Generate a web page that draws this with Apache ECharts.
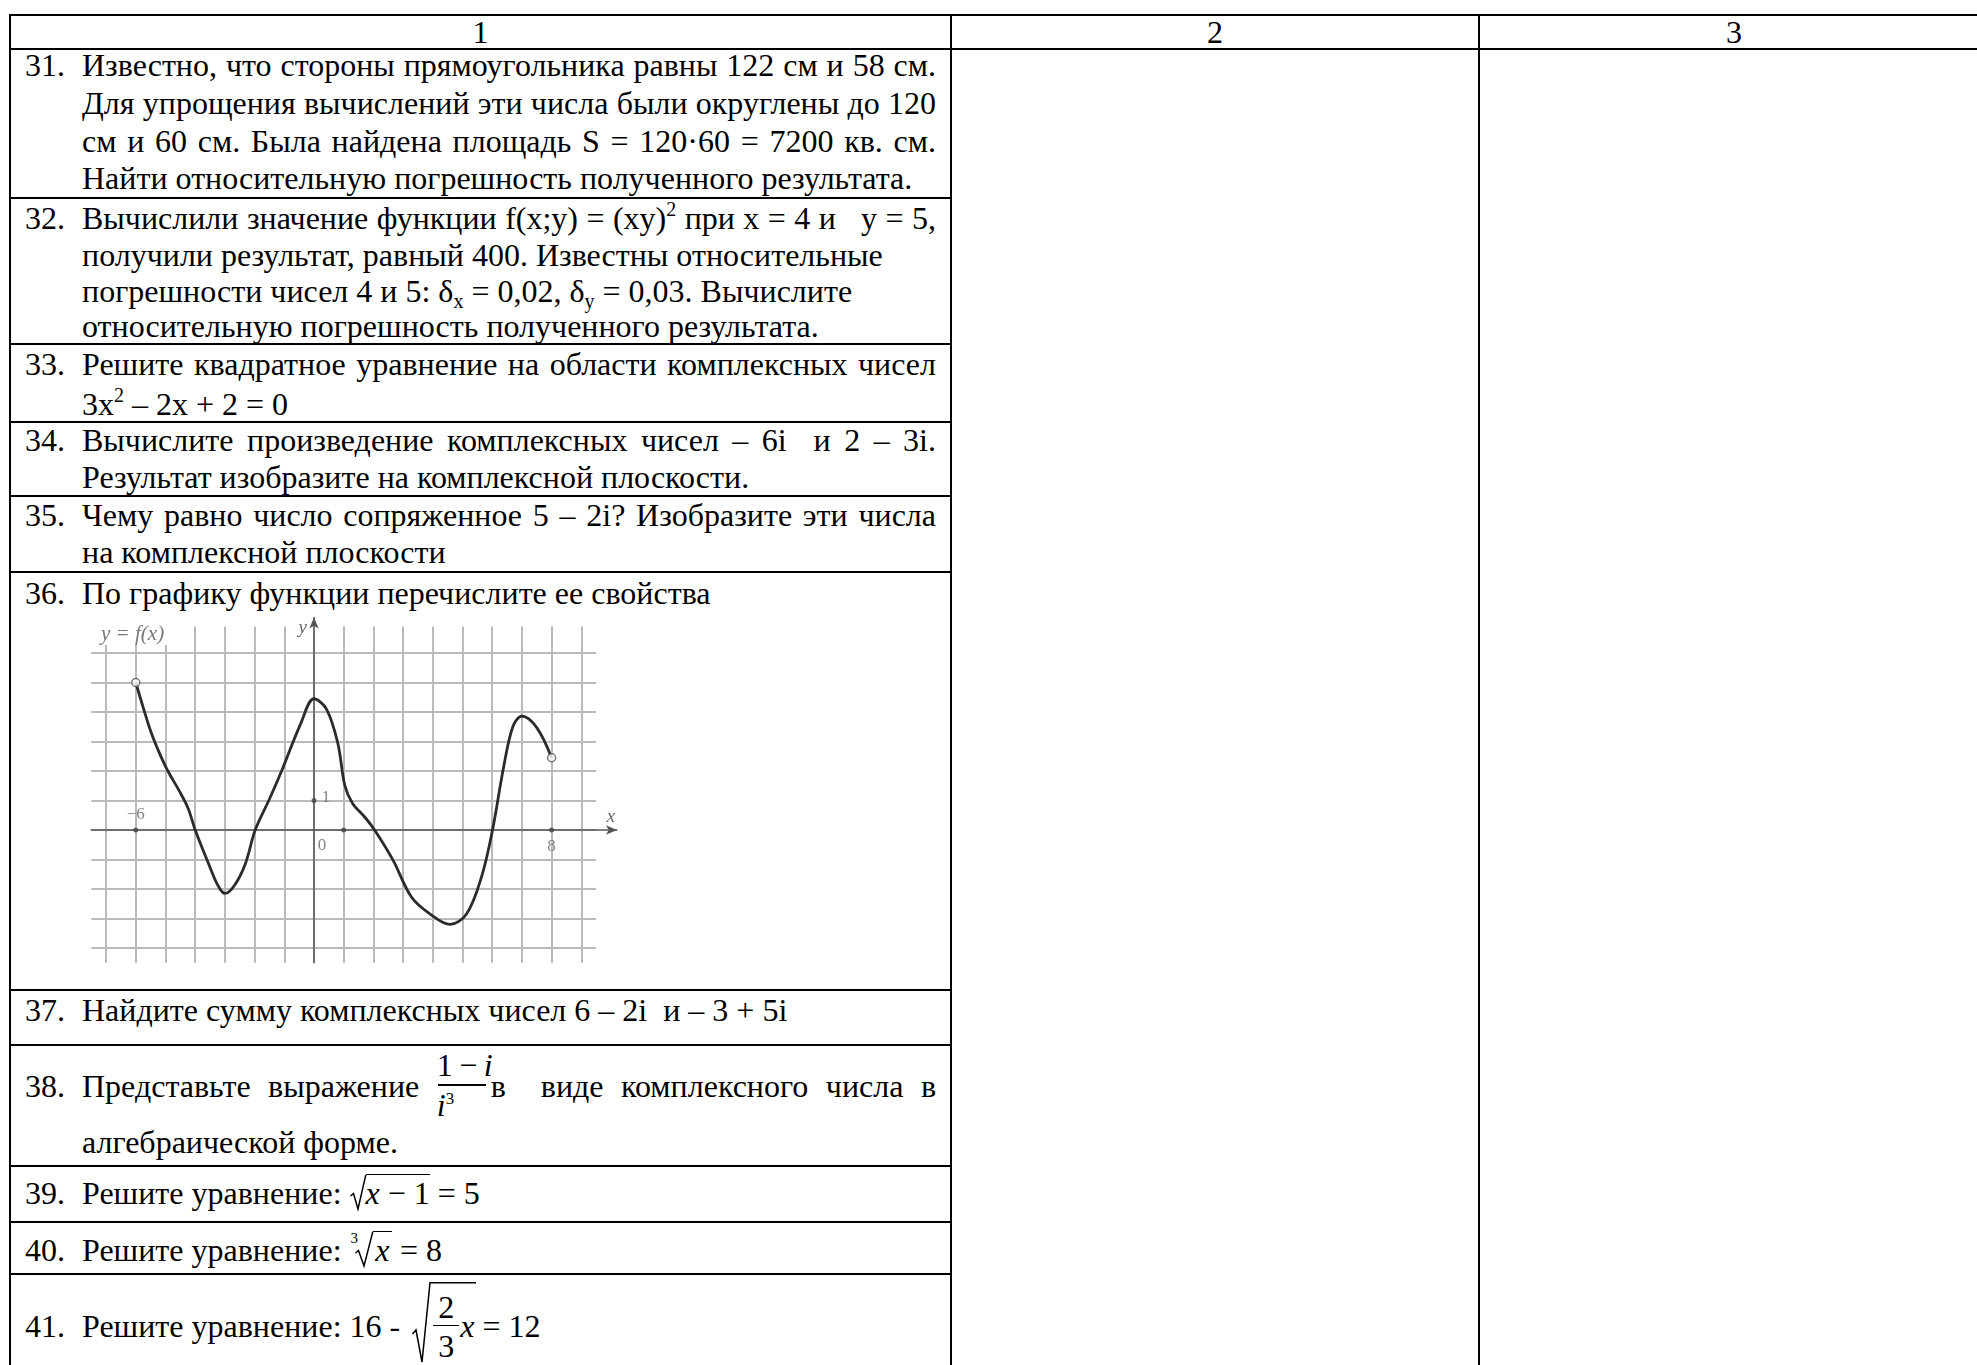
<!DOCTYPE html>
<html>
<head>
<meta charset="utf-8">
<script src="https://cdn.jsdelivr.net/npm/echarts@6/dist/echarts.min.js"></script>
<style>
  body { margin: 0; background: #fff; width: 1977px; height: 1365px; overflow: hidden; position: relative;
         font-family: 'Liberation Serif', 'Times New Roman', serif; color: #000; }
  .hl { position: absolute; height: 2px; background: #000; }
  .vl { position: absolute; width: 2px; background: #000; }
  .t { position: absolute; font-size: 32px; line-height: 37px; height: 37px; white-space: nowrap; }
  .c { text-align: center; }
  .j { width: 854px; white-space: normal; text-align: justify; text-align-last: justify; }
  .sup { font-size: 20px; vertical-align: 13px; line-height: 0; }
  .sub { font-size: 20px; vertical-align: -6px; line-height: 0; }
  .fr { display: inline-block; position: relative; height: 0; vertical-align: baseline; }
  .fn, .fd { position: absolute; left: 0; right: 0; text-align: center; line-height: 32px; white-space: nowrap; }
  .fb { position: absolute; left: 1px; right: 1px; height: 1.5px; background: #000; }
  .rad { display: inline-block; position: relative; height: 0; vertical-align: baseline; }
  .rad svg { position: absolute; left: 0; overflow: visible; }
  .ov { border-top: 1.5px solid #000; }
  .idx { position: absolute; font-size: 15px; line-height: 15px; left: -4px; top: -30px; }
  #graph { position: absolute; left: 60px; top: 600px; width: 600px; height: 380px; }
</style>
</head>
<body>
<!-- table frame -->
<div class="hl" style="top:14px;left:9px;width:1968px"></div>
<div class="hl" style="top:48px;left:9px;width:1968px"></div>
<div class="hl" style="top:197px;left:9px;width:943px"></div>
<div class="hl" style="top:343px;left:9px;width:943px"></div>
<div class="hl" style="top:421px;left:9px;width:943px"></div>
<div class="hl" style="top:495px;left:9px;width:943px"></div>
<div class="hl" style="top:571px;left:9px;width:943px"></div>
<div class="hl" style="top:989px;left:9px;width:943px"></div>
<div class="hl" style="top:1044px;left:9px;width:943px"></div>
<div class="hl" style="top:1165px;left:9px;width:943px"></div>
<div class="hl" style="top:1221px;left:9px;width:943px"></div>
<div class="hl" style="top:1273px;left:9px;width:943px"></div>
<div class="vl" style="left:9px;top:14px;height:1351px"></div>
<div class="vl" style="left:950px;top:14px;height:1351px"></div>
<div class="vl" style="left:1478px;top:14px;height:1351px"></div>

<!-- header -->
<div class="t c" style="left:10px;width:941px;top:14px">1</div>
<div class="t c" style="left:951px;width:528px;top:14px">2</div>
<div class="t c" style="left:1479px;width:510px;top:14px">3</div>

<!-- 31 -->
<div class="t" style="left:25px;top:47px">31.</div>
<div class="t j" style="left:82px;top:47px">Известно, что стороны прямоугольника равны 122 см и 58 см.</div>
<div class="t j" style="left:82px;top:85px">Для упрощения вычислений эти числа были округлены до 120</div>
<div class="t j" style="left:82px;top:122.5px">см и 60 см. Была найдена площадь S = 120·60 = 7200 кв. см.</div>
<div class="t" style="left:82px;top:160px">Найти относительную погрешность полученного результата.</div>

<!-- 32 -->
<div class="t" style="left:25px;top:200px">32.</div>
<div class="t j" style="left:82px;top:200px">Вычислили значение функции f(x;y) = (xy)<span class="sup">2</span> при x = 4 и &nbsp;&nbsp;y = 5,</div>
<div class="t" style="left:82px;top:236.5px">получили результат, равный 400. Известны относительные</div>
<div class="t" style="left:82px;top:272.5px">погрешности чисел 4 и 5: δ<span class="sub">x</span> = 0,02, δ<span class="sub">y</span> = 0,03. Вычислите</div>
<div class="t" style="left:82px;top:308px">относительную погрешность полученного результата.</div>

<!-- 33 -->
<div class="t" style="left:25px;top:345.5px">33.</div>
<div class="t j" style="left:82px;top:345.5px">Решите квадратное уравнение на области комплексных чисел</div>
<div class="t" style="left:82px;top:385.5px">3x<span class="sup">2</span> – 2x + 2 = 0</div>

<!-- 34 -->
<div class="t" style="left:25px;top:421.5px">34.</div>
<div class="t j" style="left:82px;top:421.5px">Вычислите произведение комплексных чисел – 6i &nbsp;и 2 – 3i.</div>
<div class="t" style="left:82px;top:458.5px">Результат изобразите на комплексной плоскости.</div>

<!-- 35 -->
<div class="t" style="left:25px;top:496.5px">35.</div>
<div class="t j" style="left:82px;top:496.5px">Чему равно число сопряженное 5 – 2i? Изобразите эти числа</div>
<div class="t" style="left:82px;top:533.5px">на комплексной плоскости</div>

<!-- 36 -->
<div class="t" style="left:25px;top:574.5px">36.</div>
<div class="t" style="left:82px;top:574.5px">По графику функции перечислите ее свойства</div>
<div id="graph"></div>

<!-- 37 -->
<div class="t" style="left:25px;top:992px">37.</div>
<div class="t" style="left:82px;top:992px">Найдите сумму комплексных чисел 6 – 2i &nbsp;и – 3 + 5i</div>

<!-- 38 -->
<div class="t" style="left:25px;top:1068px">38.</div>
<div class="t j" style="left:82px;top:1068px">Представьте выражение <span class="fr" style="width:50px"><span class="fn" style="top:-48px">1&#8201;−&#8201;<i>i</i></span><span class="fb" style="top:-13px"></span><span class="fd" style="top:-8px"><i>i</i><span style="font-size:17px;vertical-align:12px;line-height:0">3</span></span></span><span style="margin-left:4px">в</span> &nbsp;виде комплексного числа в</div>
<div class="t" style="left:82px;top:1124px">алгебраической форме.</div>

<!-- 39 -->
<div class="t" style="left:25px;top:1175px">39.</div>
<div class="t" style="left:82px;top:1175px">Решите уравнение: <span class="rad" style="width:16px"><svg width="16" height="36" style="top:-30px"><polyline points="0.5,22 3.5,19.5 8,35 15.8,0.8" fill="none" stroke="#000" stroke-width="1.5"/></svg></span><span class="ov"><i>x</i> − 1</span> = 5</div>

<!-- 40 -->
<div class="t" style="left:25px;top:1231.5px">40.</div>
<div class="t" style="left:82px;top:1231.5px">Решите уравнение: <span class="rad" style="width:18px;margin-left:5px"><span class="idx">3</span><svg width="18" height="36" style="top:-30px"><polyline points="0.5,22 3.5,19.5 9,35 17.8,0.8" fill="none" stroke="#000" stroke-width="1.5"/></svg></span><span class="ov">&#8202;<i>x</i>&#8202;</span> = 8</div>

<!-- 41 -->
<div class="t" style="left:25px;top:1307.5px">41.</div>
<div class="t" style="left:82px;top:1307.5px">Решите уравнение: 16 - <span class="rad" style="width:20px;margin-left:4px"><svg width="64" height="82" style="top:-55px"><polyline points="0.5,52 4,48 10,80 18,0.8 64,0.8" fill="none" stroke="#000" stroke-width="1.5"/></svg></span><span class="fr" style="width:28px"><span class="fn" style="top:-46px">2</span><span class="fb" style="top:-12px"></span><span class="fd" style="top:-7px">3</span></span><i>x</i> = 12</div>

<script>
// function graph, row 36
const gridX = [-7, -6, -5, -4, -3, -2, -1, 0, 1, 2, 3, 4, 5, 6, 7, 8, 9];
const gridY = [-4, -3, -2, -1, 0, 1, 2, 3, 4, 5, 6];

const curveX = [-6, -5.75, -5.48, -5.2, -4.92, -4.55, -4.24, -4.0, -3.55, -3.25, -3.0, -2.68, -2.31, -1.98,
  -1.5, -1.07, -0.45, 0, 0.42, 0.8, 1.04, 1.3, 1.7, 2.04, 2.66, 3.28, 3.9, 4.58, 5.14, 5.64, 6.01, 6.39,
  6.7, 7.0, 7.5, 8.0];
const curveY = [5.0, 4.15, 3.3, 2.6, 2.0, 1.35, 0.74, 0.0, -1.14, -1.85, -2.15, -1.88, -1.14, 0.0,
  1.05, 2.05, 3.6, 4.45, 4.1, 2.95, 1.5, 0.9, 0.45, 0.0, -1.02, -2.27, -2.84, -3.2, -2.84, -1.59, 0.0, 2.16,
  3.52, 3.86, 3.47, 2.45];

const endX = [-6, 8];
const endY = [5.0, 2.45];

const tickX = [-6, 1, 8, 0];
const tickY = [0, 0, 0, 1];
const tickText = ['−6', '', '8', '1'];

let myChart = echarts.init(document.getElementById('graph'))

let gridLines = []
gridX.forEach(function (x) {
  gridLines.push([{ coord: [x, -4.5] }, { coord: [x, 6.9] }])
})
gridY.forEach(function (y) {
  gridLines.push([{ coord: [-7.5, y] }, { coord: [9.5, y] }])
})

let labelFont = { fontFamily: 'Liberation Serif', fontSize: 17, color: '#666' }

let option = {
  animation: false,
  title: {
    text: 'y = f(x)',
    left: 38,
    top: 24,
    padding: [0, 3],
    backgroundColor: '#fff',
    textStyle: { fontFamily: 'Liberation Serif', fontStyle: 'italic', fontWeight: 'normal', fontSize: 21, color: '#777' }
  },
  grid: { left: 31.25, top: 17.6, width: 525.7, height: 345.2 },
  xAxis: {
    type: 'value', min: -7.5, max: 10.2, z: 5,
    name: 'x', nameLocation: 'end', nameGap: -6,
    nameTextStyle: { fontFamily: 'Liberation Serif', fontStyle: 'italic', fontSize: 19, color: '#666',
      align: 'center', verticalAlign: 'bottom', padding: [0, 0, 4, 0] },
    axisLine: { onZero: true, symbol: ['none', 'arrow'], symbolSize: [7, 11], lineStyle: { color: '#555', width: 1.5 } },
    axisTick: { show: false }, axisLabel: { show: false }, splitLine: { show: false }
  },
  yAxis: {
    type: 'value', min: -4.5, max: 7.2, z: 5,
    name: 'y', nameLocation: 'end', nameGap: -10,
    nameTextStyle: { fontFamily: 'Liberation Serif', fontStyle: 'italic', fontSize: 19, color: '#666',
      align: 'right', verticalAlign: 'middle', padding: [0, 7, 0, 0] },
    axisLine: { onZero: true, symbol: ['none', 'arrow'], symbolSize: [7, 11], lineStyle: { color: '#555', width: 1.5 } },
    axisTick: { show: false }, axisLabel: { show: false }, splitLine: { show: false }
  },
  series: [
    {
      type: 'line',
      data: [],
      z: 1,
      silent: true,
      markLine: {
        silent: true,
        symbol: ['none', 'none'],
        label: { show: false },
        lineStyle: { type: 'solid', color: '#bababa', width: 2 },
        data: gridLines
      }
    },
    {
      type: 'line',
      data: curveX.map(function (x, i) { return [x, curveY[i]] }),
      smooth: 0.35,
      showSymbol: false,
      z: 10,
      lineStyle: { color: '#2b2b2b', width: 2.8 }
    },
    {
      type: 'scatter',
      data: tickX.map(function (x, i) { return [x, tickY[i]] }),
      symbolSize: 5,
      z: 11,
      itemStyle: { color: '#444' },
      label: {
        show: true,
        formatter: function (p) { return tickText[p.dataIndex] },
        position: 'top', distance: 4,
        fontFamily: labelFont.fontFamily, fontSize: labelFont.fontSize, color: labelFont.color
      },
      labelLayout: function (p) {
        if (p.dataIndex === 2) return { dy: 32 }
        if (p.dataIndex === 3) return { dx: 12, dy: 12 }
        return {}
      }
    },
    {
      type: 'scatter',
      data: [[0, 0]],
      symbolSize: 0,
      label: { show: true, formatter: '0', position: 'bottom', offset: [8, 2],
        fontFamily: labelFont.fontFamily, fontSize: labelFont.fontSize, color: labelFont.color }
    },
    {
      type: 'scatter',
      data: endX.map(function (x, i) { return [x, endY[i]] }),
      symbol: 'circle',
      symbolSize: 8,
      z: 12,
      itemStyle: { color: '#fff', borderColor: '#555', borderWidth: 1.5 }
    }
  ]
}
myChart.setOption(option)
</script>
</body>
</html>
